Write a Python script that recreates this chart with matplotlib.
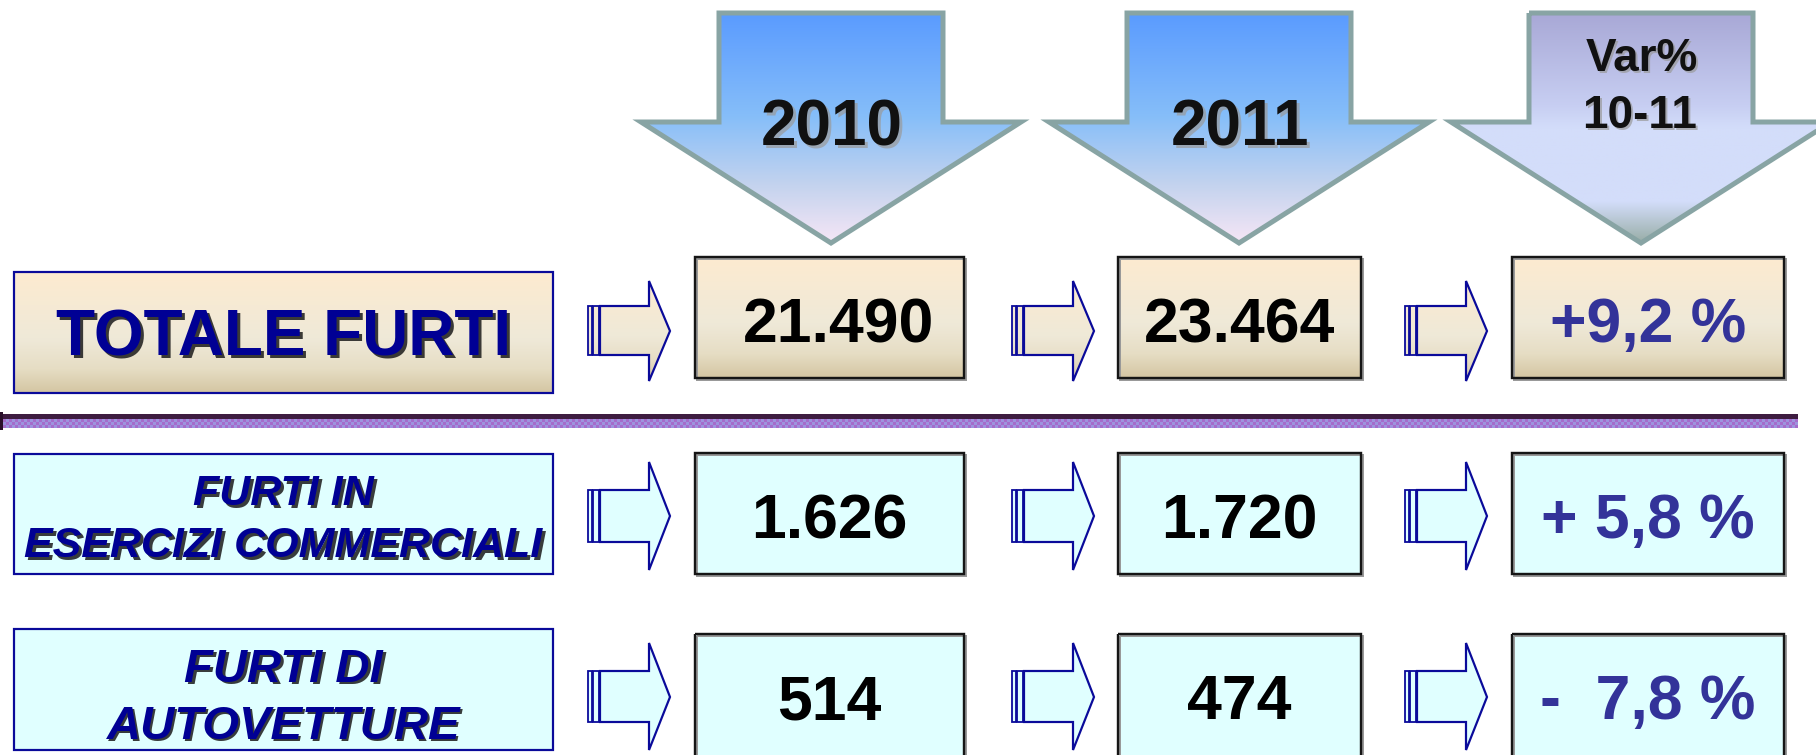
import numpy as np
import matplotlib
matplotlib.use('Agg')
import matplotlib.pyplot as plt
from matplotlib.patches import Polygon, Rectangle
from matplotlib.colors import to_rgb

# ---------------- data ----------------
years = ['2010', '2011']
var_header = ['Var%', '10-11']
categories = [['TOTALE FURTI'],
              ['FURTI IN', 'ESERCIZI COMMERCIALI'],
              ['FURTI DI', 'AUTOVETTURE']]
values_2010 = [21490, 1626, 514]
values_2011 = [23464, 1720, 474]
var_labels = ['+9,2 %', '+ 5,8 %', '-  7,8 %']

# ---------------- layout ----------------
W, H = 1816, 755
DPI = 100
PX = 72.0 / DPI  # points per pixel
FONT = 'Liberation Sans'

fig = plt.figure(figsize=(W / DPI, H / DPI), dpi=DPI)
ax = fig.add_axes([0, 0, 1, 1])
ax.set_axis_off()

CREAM = [(0.0, '#FDEBD0'), (0.55, '#EFE9D8'), (0.8, '#E6DDC4'), (1.0, '#D4C5A2')]
CYAN = '#E0FFFF'
NAVY = '#0A0A9A'


def vgrad(patch, x0, x1, y0, y1, stops, z):
    n = 256
    ys = np.linspace(0, 1, n)
    fr = [s[0] for s in stops]
    cols = np.array([to_rgb(s[1]) for s in stops])
    arr = np.stack([np.interp(ys, fr, cols[:, k]) for k in range(3)], axis=-1)[:, None, :]
    im = ax.imshow(arr, extent=[x0, x1, y1, y0], origin='upper', aspect='auto',
                   zorder=z, interpolation='bilinear')
    im.set_clip_path(patch)


def txt(x, yc, s, size, color, style='normal', shadow=None, sd=2.5, salpha=1.0, z=10):
    cap = 0.716 * size / PX
    yb = yc + cap / 2.0
    kw = dict(fontsize=size, fontweight='bold', fontstyle=style, family=FONT,
              ha='center', va='baseline')
    if shadow is not None:
        ax.text(x + sd, yb + sd, s, color=shadow, alpha=salpha, zorder=z, **kw)
    ax.text(x, yb, s, color=color, zorder=z + 1, **kw)


def fmt_it(v):
    return format(v, ',').replace(',', '.')


# ---------------- header arrows ----------------
hdr_centers = [831, 1239, 1641]
shaft_half, wing_half = 112, 190
top_y, base_y, tip_y = 13, 122, 243
blue_stops = [(0.0, '#5A9BFF'), (0.45, '#86BEF9'), (0.75, '#C4D3EE'), (1.0, '#F6E6F6')]
var_stops = [(0.0, '#A8A8D6'), (0.4, '#C7CEF2'), (0.5, '#D3DDFA'), (0.82, '#D3DDFA'), (1.0, '#98ADA6')]
for i, cx in enumerate(hdr_centers):
    pts = [(cx - shaft_half, top_y), (cx + shaft_half, top_y), (cx + shaft_half, base_y),
           (cx + wing_half, base_y), (cx, tip_y), (cx - wing_half, base_y),
           (cx - shaft_half, base_y)]
    poly = Polygon(pts, closed=True, facecolor='none', edgecolor='#88A4A4',
                   linewidth=5 * PX, joinstyle='miter', zorder=3)
    ax.add_patch(poly)
    clip = Polygon(pts, closed=True, facecolor='none', edgecolor='none')
    ax.add_patch(clip)
    vgrad(clip, cx - wing_half, cx + wing_half, top_y, tip_y,
          var_stops if i == 2 else blue_stops, 2)

for cx, y in zip(hdr_centers[:2], years):
    txt(cx + 1, 123, y, 46, '#111111', shadow='#9A9A9A', sd=2.5, salpha=0.7)
txt(hdr_centers[2] + 1, 55, var_header[0], 33, '#111111', shadow='#9A9A9A', sd=2, salpha=0.7)
txt(hdr_centers[2] - 1, 112, var_header[1], 33, '#111111', shadow='#9A9A9A', sd=2, salpha=0.7)

# ---------------- separator ----------------
ax.add_patch(Rectangle((0, 414), 1798, 5, facecolor='#3E1C40', edgecolor='none', zorder=3))
nchk = 600
chk = np.zeros((3, nchk, 3))
c1, c2 = np.array(to_rgb('#9D94DE')), np.array(to_rgb('#A56CCB'))
for r in range(3):
    for c in range(nchk):
        chk[r, c] = c1 if (r + c) % 2 == 0 else c2
ax.imshow(chk, extent=[0, 1798, 428, 419], origin='upper', aspect='auto',
          interpolation='nearest', zorder=3)
ax.add_patch(Rectangle((0, 412), 3, 18, facecolor='#2A0F2A', edgecolor='none', zorder=4))

# ---------------- rows ----------------
label_x = (14, 553)
label_rows = [(272, 393), (454, 574), (629, 750)]
val_cols = [(695, 964), (1118, 1361), (1512, 1784)]
val_rows = [(257, 378), (453, 574), (634, 762)]
arrow_x = [588, 1012, 1405]
arrow_geo = [  # (head_top, tip, head_bottom, shaft_top, shaft_bottom)
    (281, 331, 381, 306, 355),
    (462, 516, 570, 490, 542),
    (643, 697, 750, 671, 722),
]
label_centers = [[333], [490, 542], [665, 722]]
label_sizes = [46, 31, 34]
val_centers = [320, 516, 697]


def small_arrow(x0, geo, fill, row):
    ht, tip, hb, st, sb = geo
    hx, tx = x0 + 61, x0 + 82
    bx = x0 + 12
    body = [(bx, st), (hx, st), (hx, ht), (tx, tip), (hx, hb), (hx, sb), (bx, sb)]
    outline = Polygon(body, closed=True, facecolor='none', edgecolor=NAVY,
                      linewidth=2.2 * PX, joinstyle='miter', zorder=6)
    ax.add_patch(outline)
    for (a, b) in [(x0, x0 + 3.5), (x0 + 5, x0 + 11)]:
        r = Rectangle((a, st), b - a, sb - st, facecolor='none', edgecolor=NAVY,
                      linewidth=1.8 * PX, zorder=6)
        ax.add_patch(r)
        rc = Rectangle((a, st), b - a, sb - st, facecolor='none', edgecolor='none')
        ax.add_patch(rc)
        if row == 0:
            vgrad(rc, a, b, ht, hb, CREAM, 5)
        else:
            rc.set_facecolor(fill)
            rc.set_zorder(5)
    clip = Polygon(body, closed=True, facecolor='none', edgecolor='none')
    ax.add_patch(clip)
    if row == 0:
        vgrad(clip, bx, tx, ht, hb, CREAM, 5)
    else:
        clip.set_facecolor(fill)
        clip.set_zorder(5)


for r in range(3):
    # label box
    y0, y1 = label_rows[r]
    box = Rectangle((label_x[0], y0), label_x[1] - label_x[0], y1 - y0,
                    facecolor='none', edgecolor=NAVY, linewidth=2.2 * PX, zorder=6)
    ax.add_patch(box)
    if r == 0:
        clip = Rectangle((label_x[0], y0), label_x[1] - label_x[0], y1 - y0,
                         facecolor='none', edgecolor='none')
        ax.add_patch(clip)
        vgrad(clip, label_x[0], label_x[1], y0, y1, CREAM, 5)
    else:
        ax.add_patch(Rectangle((label_x[0], y0), label_x[1] - label_x[0], y1 - y0,
                               facecolor=CYAN, edgecolor='none', zorder=5))
    lx = (label_x[0] + label_x[1]) / 2.0
    style = 'normal' if r == 0 else 'italic'
    for line, yc in zip(categories[r], label_centers[r]):
        txt(lx, yc, line, label_sizes[r], '#000094', style=style,
            shadow='#1A1A1A', sd=3 if r == 0 else 2.5, salpha=0.85)

    # value boxes
    texts = [fmt_it(values_2010[r]), fmt_it(values_2011[r]), var_labels[r]]
    colors = ['#000000', '#000000', '#333399']
    for c in range(3):
        x0, x1 = val_cols[c]
        y0, y1 = val_rows[r]
        ax.add_patch(Rectangle((x0 + 1.5, y0 + 1.5), x1 - x0, y1 - y0, facecolor='none',
                               edgecolor='#999999', linewidth=2 * PX, zorder=5.5))
        ax.add_patch(Rectangle((x0, y0), x1 - x0, y1 - y0, facecolor='none',
                               edgecolor='#151515', linewidth=2.4 * PX, zorder=6))
        if r == 0:
            clip = Rectangle((x0, y0), x1 - x0, y1 - y0, facecolor='none', edgecolor='none')
            ax.add_patch(clip)
            vgrad(clip, x0, x1, y0, y1, CREAM, 5)
        else:
            ax.add_patch(Rectangle((x0, y0), x1 - x0, y1 - y0, facecolor=CYAN,
                                   edgecolor='none', zorder=5))
        cx = (x0 + x1) / 2.0
        if r == 0 and c == 0:
            cx += 9
        txt(cx, val_centers[r], texts[c], 45, colors[c])

    # small arrows
    for c in range(3):
        small_arrow(arrow_x[c], arrow_geo[r], CYAN, r)

ax.set_xlim(0, W)
ax.set_ylim(H, 0)
fig.savefig('out.png', dpi=DPI, facecolor='white')
